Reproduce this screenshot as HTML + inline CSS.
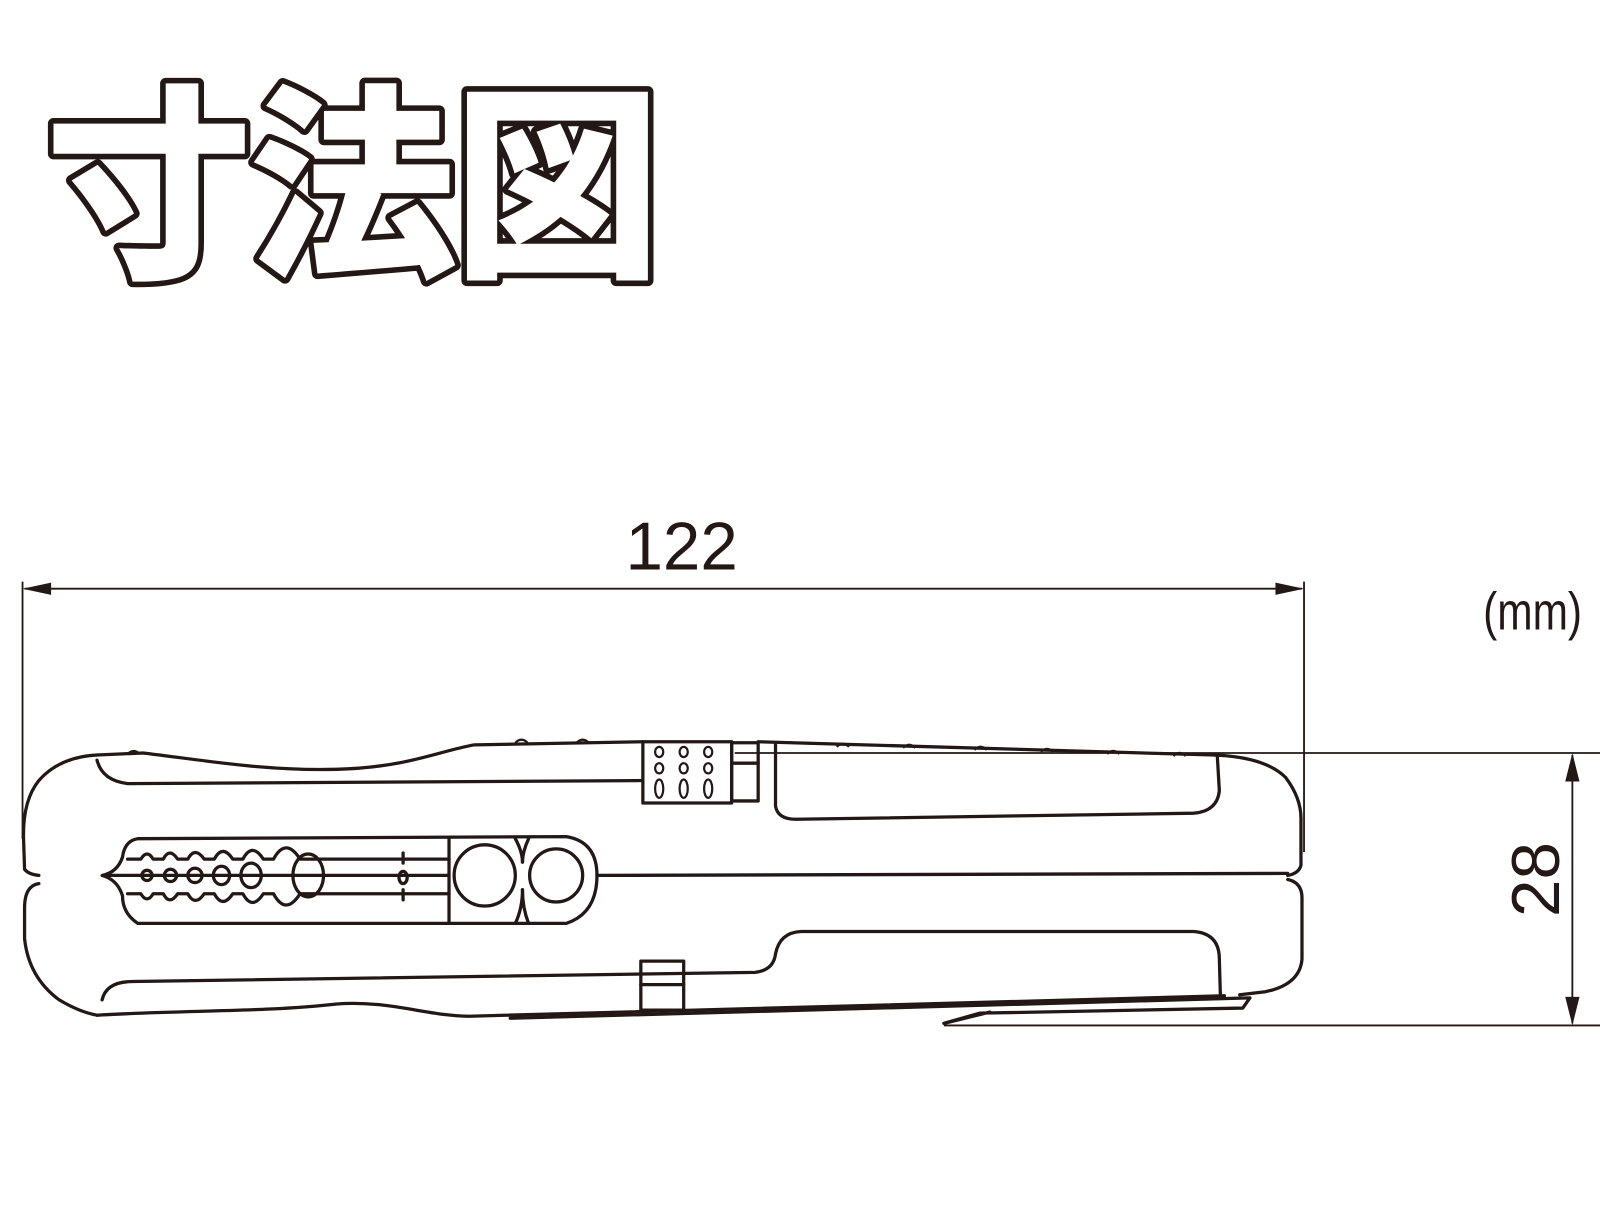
<!DOCTYPE html>
<html><head><meta charset="utf-8"><style>
html,body{margin:0;padding:0;background:#fff;}
svg{display:block}
</style></head><body>
<svg width="1600" height="1206" viewBox="0 0 1568 1182" xmlns="http://www.w3.org/2000/svg">
<text x="44" y="256" font-family="'Noto Sans CJK JP', sans-serif" font-weight="900" font-size="204" fill="#fff" stroke="#231815" stroke-width="11" stroke-linejoin="round" paint-order="stroke" letter-spacing="-4">寸法図</text>

<g stroke="#231815" fill="none" stroke-width="1.8">
<line x1="22" y1="570" x2="22" y2="822"/>
<line x1="1278" y1="570" x2="1278" y2="835"/>
<line x1="24" y1="577" x2="1276" y2="577"/>
<line x1="720" y1="738" x2="1585" y2="738"/>
<line x1="925" y1="1005" x2="1585" y2="1005"/>
<line x1="1541" y1="740" x2="1541" y2="1003"/>
</g>
<g fill="#231815">
<polygon points="22,577 50,571 50,583"/>
<polygon points="1278,577 1250,571 1250,583"/>
<polygon points="1541,738 1534,766 1548,766"/>
<polygon points="1541,1005 1534,977 1548,977"/>
</g>
<text x="668" y="558" text-anchor="middle" font-family="'Liberation Sans', sans-serif" font-size="66" fill="#231815">122</text>
<text x="1502" y="617" text-anchor="middle" font-family="'Liberation Sans', sans-serif" font-size="52" fill="#231815" transform="translate(1502 600) scale(0.8 1) translate(-1502 -600)">(mm)</text>
<text transform="translate(1528 862) rotate(-90)" text-anchor="middle" font-family="'Liberation Sans', sans-serif" font-size="66" fill="#231815">28</text>

<g stroke="#231815" fill="none" stroke-width="3.2" stroke-linejoin="round" stroke-linecap="round">
<path d="M95,740 Q58,742 38,765 Q22,785 23,822 L24,852 Q28,857 38,858"/>
<path d="M95,740 L140,738 C200,745 260,756 330,754 C400,752 430,736 465,730 L630,727"/>
<path d="M95,745 Q100,765 125,768 L630,765"/>
<rect x="630" y="727" width="87" height="60"/>
<rect x="717" y="728" width="26" height="57"/>
<line x1="717" y1="748" x2="743" y2="748"/>
<path d="M743,727 L1190,740"/>
<path d="M760,730 L760,790 Q762,803 780,803 L1170,797 Q1193,795 1195,775 L1193,741"/>
<path d="M1190,740 Q1240,742 1260,762 Q1275,782 1275,802 L1275,848 Q1273,856 1262,858"/>
<path d="M585,858 L1262,856"/>
<path d="M38,866 Q24,868 24,890 L24,920 Q28,958 58,980 Q78,992 95,995"/>
<path d="M95,995 C180,990 260,992 330,984 C380,980 420,996 460,996 L1200,976"/>
<path d="M100,980 Q104,962 130,962 L740,953 Q758,951 760,935 Q764,914 785,913 L1170,913 Q1195,915 1195,940 L1196,975"/>
<path d="M1262,862 Q1276,865 1276,880 L1276,940 Q1274,965 1240,972 L1215,975"/>
<rect x="628" y="942" width="42" height="48"/>
<line x1="628" y1="965" x2="670" y2="965"/>
<path d="M500,998 L1225,978 L1218,988 L960,993 L925,1003 L970,992"/>
<path d="M135,822 L555,820 Q585,825 585,858 Q585,895 555,905 L135,905 Q120,895 120,878 Q115,862 100,858 Q115,855 120,840 Q122,824 135,822"/>
<path d="M125,842 L138,842 q6,-10 12,0 l10,0 q6,-12 14,0 l10,0 q7,-13 16,0 l10,0 q8,-15 18,0 l10,0 q9,-17 20,0 l10,0 q12,-22 26,0 L440,842"/>
<path d="M125,876 L138,876 q6,10 12,0 l10,0 q6,12 14,0 l10,0 q7,13 16,0 l10,0 q8,15 18,0 l10,0 q9,17 20,0 l10,0 q12,22 26,0 L440,876"/>
<path d="M105,858 L440,858"/>
<ellipse cx="144" cy="858" rx="5" ry="5"/>
<ellipse cx="167" cy="858" rx="6" ry="6"/>
<ellipse cx="191" cy="858" rx="7" ry="7"/>
<ellipse cx="217" cy="858" rx="8" ry="9"/>
<ellipse cx="246" cy="858" rx="10" ry="12"/>
<ellipse cx="302" cy="858" rx="15" ry="21"/>
<ellipse cx="395" cy="860" rx="4" ry="6"/>
<line x1="395" y1="836" x2="395" y2="846"/>
<line x1="395" y1="872" x2="395" y2="882"/>
<line x1="440" y1="822" x2="440" y2="905"/>
<circle cx="475" cy="858" r="30"/>
<circle cx="545" cy="858" r="26"/>
<path d="M505,822 Q512,835 512,845 M505,905 Q512,890 512,872"/>
<path d="M518,822 Q512,835 512,845 M518,905 Q512,890 512,872"/>
</g>
<g stroke="#231815" fill="none" stroke-width="2.2">
<ellipse cx="646" cy="737" rx="4" ry="5"/><ellipse cx="670" cy="737" rx="4" ry="5"/><ellipse cx="694" cy="737" rx="4" ry="5"/>
<ellipse cx="646" cy="753" rx="4" ry="5"/><ellipse cx="670" cy="753" rx="4" ry="5"/><ellipse cx="694" cy="753" rx="4" ry="5"/>
<ellipse cx="646" cy="773" rx="4" ry="9"/><ellipse cx="670" cy="773" rx="4" ry="9"/><ellipse cx="694" cy="773" rx="4" ry="9"/>
<path d="M505,728 q6,-6 12,0 M565,728 q6,-6 12,0 M820,732 q6,-6 12,0 M885,733 q6,-6 12,0 M955,735 q6,-6 12,0 M1020,737 q6,-6 12,0 M1085,739 q6,-6 12,0 M1150,741 q6,-6 12,0 M125,739 q6,-6 12,0"/>
</g>
</svg>
</body></html>
